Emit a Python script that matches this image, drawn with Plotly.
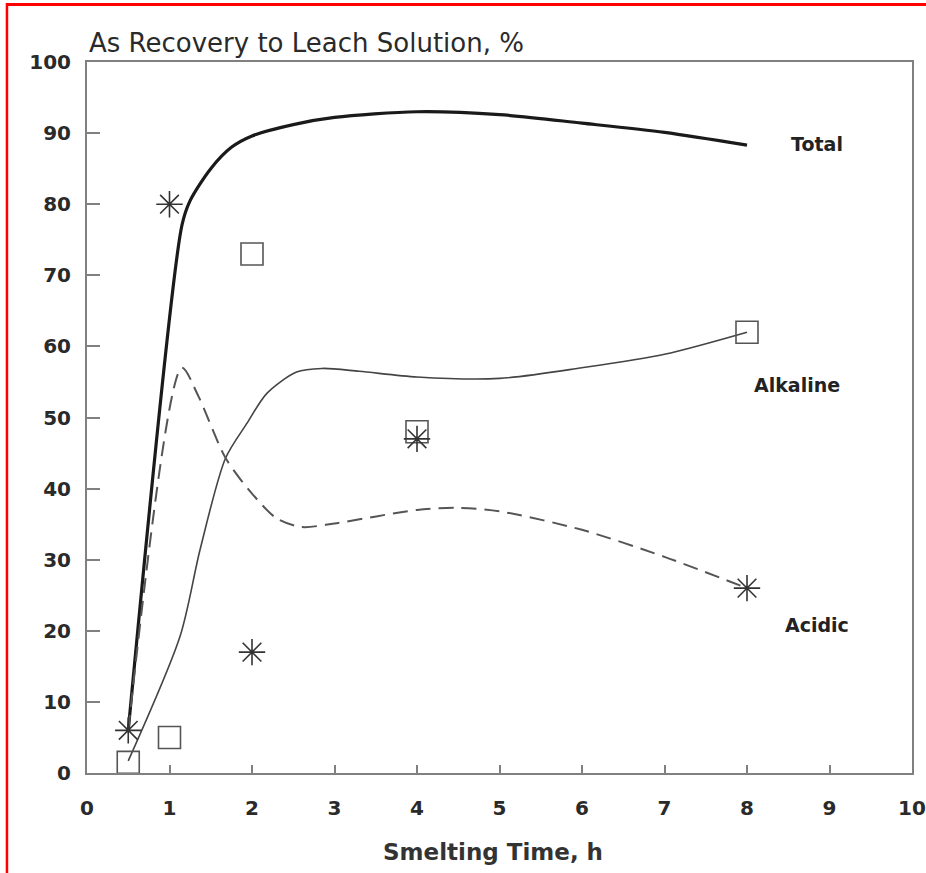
import plotly.graph_objects as go

# Measured points (smelting time, h)
time_h = [0.5, 1, 2, 4, 8]
alkaline_pts = [1.5, 5, 73, 48, 62]
acidic_pts = [6, 80, 17, 47, 26]

# Smoothed trend curves
total_x = [0.5, 1.15, 1.25, 1.5, 1.75, 2, 2.5, 3, 4, 5, 6, 7, 8]
total_y = [6, 77, 80.5, 85, 88, 89.6, 91.2, 92.2, 93, 92.6, 91.4, 90.1, 88.3]

alk_x = [0.5, 1.13, 1.37, 1.68, 1.94, 2.18, 2.54, 2.85, 3.3, 4, 5, 6, 7, 8]
alk_y = [1.7, 19.3, 31.4, 44.3, 49.2, 53.4, 56.4, 56.9, 56.5, 55.7, 55.5, 57, 58.9, 62]

acid_x = [0.5, 1.15, 1.35, 1.68, 2.0, 2.3, 2.6, 3.0, 4, 4.5, 5, 6, 7, 8]
acid_y = [6, 57, 53, 44.3, 39.3, 35.8, 34.6, 35.1, 37, 37.3, 36.8, 34.2, 30.4, 26]

x_ticks = list(range(0, 11))
y_ticks = list(range(0, 101, 10))

curve_labels = ["Total", "Alkaline", "Acidic"]
label_x = [8.85, 8.6, 8.85]
label_y = [88.5, 54.6, 20.8]

FONT = "DejaVu Sans"

fig = go.Figure()

fig.add_trace(go.Scatter(
    x=total_x, y=total_y, mode="lines", line=dict(color="#1a1a1a", width=3.2, shape="spline", smoothing=0.8),
    hoverinfo="skip", showlegend=False))
fig.add_trace(go.Scatter(
    x=alk_x, y=alk_y, mode="lines", line=dict(color="#444444", width=1.6, shape="spline", smoothing=0.8),
    hoverinfo="skip", showlegend=False))
fig.add_trace(go.Scatter(
    x=acid_x, y=acid_y, mode="lines",
    line=dict(color="#555555", width=2, dash="15px,8px", shape="spline", smoothing=0.8),
    hoverinfo="skip", showlegend=False))

fig.add_trace(go.Scatter(
    x=time_h, y=alkaline_pts, mode="markers",
    marker=dict(symbol="square-open", size=22, color="#555555", line=dict(width=1.6, color="#555555")),
    showlegend=False))
fig.add_trace(go.Scatter(
    x=time_h, y=acidic_pts, mode="markers",
    marker=dict(symbol="asterisk-open", size=22, color="#333333", line=dict(width=1.6, color="#333333")),
    showlegend=False))

for t, lx, ly in zip(curve_labels, label_x, label_y):
    fig.add_annotation(x=lx, y=ly, text=t, showarrow=False,
                       font=dict(family=FONT, size=19, color="#222222", weight="bold"))

# Axis titles
fig.add_annotation(xref="paper", yref="paper", x=0.0, y=1.027, xanchor="left", yanchor="middle",
                   text="As Recovery to Leach Solution, %", showarrow=False,
                   font=dict(family=FONT, size=26, color="#2a2a2a"))
fig.add_annotation(xref="paper", yref="paper", x=0.492, y=-0.111, xanchor="center", yanchor="middle",
                   text="Smelting Time, h", showarrow=False,
                   font=dict(family=FONT, size=23, color="#333333", weight="bold"))

axis_common = dict(
    showgrid=False, zeroline=False, showline=True, linecolor="#808080", linewidth=2,
    mirror=True, ticks="inside", tickcolor="#808080", tickwidth=1.5, automargin=False,
    tickfont=dict(family=FONT, size=20, color="#2a2a2a", weight="bold"),
)

fig.update_xaxes(range=[0, 10], tickvals=x_ticks, ticklen=8, ticklabelstandoff=16, **axis_common)
fig.update_yaxes(range=[0, 100], tickvals=y_ticks, ticklen=13, ticklabelstandoff=10, **axis_common)

# Red frame around the figure
fig.add_shape(type="line", xref="paper", yref="paper", x0=-0.097, x1=-0.097, y0=1.083, y1=-0.2,
              line=dict(color="#ff0000", width=2.5))
fig.add_shape(type="line", xref="paper", yref="paper", x0=-0.097, x1=1.03, y0=1.081, y1=1.081,
              line=dict(color="#ff0000", width=3))

fig.update_layout(
    width=926, height=873,
    margin=dict(l=87, r=14, t=62, b=100),
    paper_bgcolor="white", plot_bgcolor="white",
)

fig.write_html("out.html")
